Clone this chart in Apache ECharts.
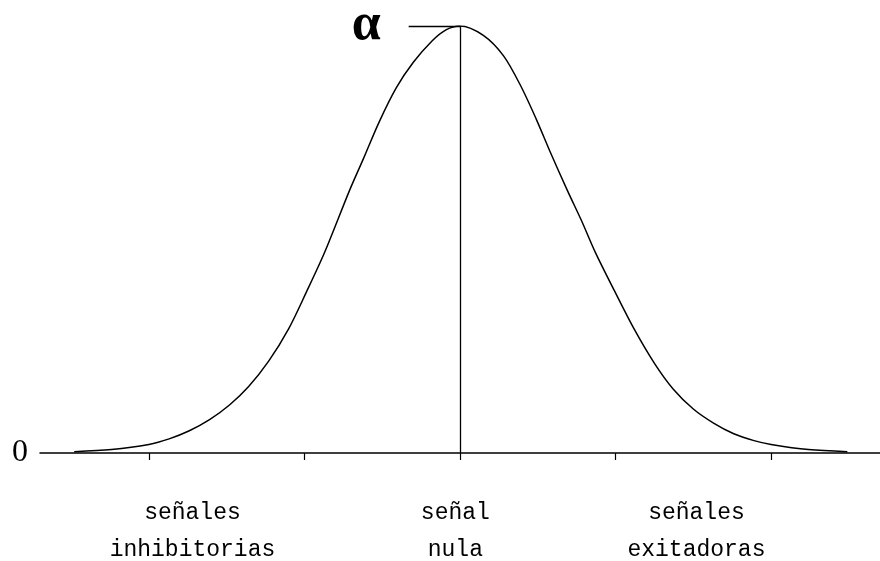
<!DOCTYPE html>
<html>
<head>
<meta charset="utf-8">
<title>Distribución de señales</title>
<script src="https://cdn.jsdelivr.net/npm/echarts@6/dist/echarts.min.js"></script>
<style>
  html, body { margin: 0; padding: 0; background: #fff; }
  #chart { width: 880px; height: 561px; }
</style>
</head>
<body>
<div id="chart"></div>
<script>
// Bell-shaped response curve: position along the signal axis vs. relative height (peak = α)
const curveX = [-2.48, -2.24, -2.00, -1.87, -1.74, -1.61, -1.48, -1.36, -1.23, -1.10, -0.99,
                -0.87, -0.71, -0.62, -0.52, -0.41, -0.30, -0.18, -0.09, 0,
                0.15, 0.28, 0.39, 0.49, 0.58, 0.69, 0.78, 0.87, 0.99, 1.12, 1.25, 1.37,
                1.50, 1.63, 1.76, 1.89, 2.00, 2.24, 2.49];
const curveY = [0.003, 0.008, 0.020, 0.033, 0.052, 0.078, 0.113, 0.155, 0.215, 0.292, 0.375,
                0.470, 0.615, 0.690, 0.775, 0.855, 0.915, 0.965, 0.991, 1,
                0.978, 0.930, 0.860, 0.782, 0.705, 0.615, 0.545, 0.470, 0.382, 0.290, 0.210, 0.150,
                0.103, 0.070, 0.045, 0.029, 0.020, 0.008, 0.003];

// Tick marks along the horizontal axis
const tickValues = [-2, -1, 0, 1, 2];

// Region captions under the axis
const captionPos = [-1.72, -0.03, 1.52];
const captionText = ['señales\ninhibitorias', 'señal\nnula', 'señales\nexitadoras'];

const peakLabel = 'α';
const zeroLabel = '0';
const alphaLineStart = -0.33;

const peakValue = Math.max(...curveY);
const peakX = curveX[curveY.indexOf(peakValue)];

const chart = echarts.init(document.getElementById('chart'), null, { renderer: 'canvas' });

chart.setOption({
  backgroundColor: '#ffffff',
  animation: false,
  grid: { left: 40, right: 0, top: 26, bottom: 108, containLabel: false, outerBoundsMode: 'none' },
  xAxis: {
    type: 'value',
    min: -2.7,
    max: 2.7,
    splitLine: { show: false },
    axisLine: { show: true, onZero: false, lineStyle: { color: '#000', width: 1.5 } },
    axisTick: { show: true, inside: false, length: 7, customValues: tickValues,
                lineStyle: { color: '#000', width: 1.2 } },
    axisLabel: {
      show: true,
      customValues: captionPos,
      formatter: function (v) {
        const i = captionPos.findIndex(p => Math.abs(p - v) < 1e-6);
        return i >= 0 ? captionText[i] : '';
      },
      margin: 41,
      color: '#000',
      fontFamily: 'Liberation Mono',
      fontSize: 23,
      lineHeight: 37,
      align: 'center'
    }
  },
  yAxis: {
    type: 'value',
    min: 0,
    max: 1,
    splitLine: { show: false },
    axisLine: { show: false },
    axisTick: { show: false },
    axisLabel: {
      show: true,
      customValues: [0],
      formatter: function () { return zeroLabel; },
      margin: 12,
      color: '#000',
      fontFamily: 'Liberation Serif',
      fontSize: 32
    }
  },
  series: [{
    type: 'line',
    data: curveX.map((x, i) => [x, curveY[i]]),
    smooth: 0.3,
    showSymbol: false,
    symbol: 'none',
    lineStyle: { color: '#000', width: 1.5 },
    z: 3,
    markLine: {
      silent: true,
      symbol: ['none', 'none'],
      animation: false,
      lineStyle: { color: '#000', width: 1.3, type: 'solid' },
      data: [
        [
          { coord: [peakX, 0], label: { show: false } },
          { coord: [peakX, peakValue] }
        ],
        [
          { coord: [alphaLineStart, peakValue],
            label: { show: true, position: 'start', formatter: peakLabel, distance: 28,
                     color: '#000', fontFamily: 'Liberation Serif', fontWeight: 'bold', fontSize: 52 } },
          { coord: [peakX, peakValue] }
        ]
      ]
    }
  }]
});
</script>
</body>
</html>
